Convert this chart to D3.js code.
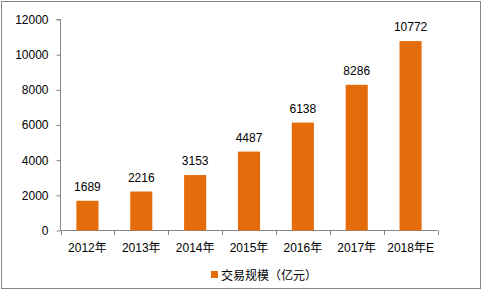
<!DOCTYPE html>
<html><head><meta charset="utf-8">
<script src="https://cdn.jsdelivr.net/npm/d3@7"></script>
<style>body{margin:0;background:#fff}svg{display:block}text{font-family:"Liberation Sans","Noto Sans CJK SC",sans-serif;font-size:12px;fill:#000}</style>
</head><body><svg id="c" width="483" height="291"></svg>
<script>
const categories = ["2012年","2013年","2014年","2015年","2016年","2017年","2018年E"];
const values = [1689,2216,3153,4487,6138,8286,10772];
const yTicks = [0,2000,4000,6000,8000,10000,12000];
const seriesName = "交易规模（亿元）";

const svg = d3.select("#c");
const color = "#E46C0A", axisColor = "#868686";
svg.append("rect").attr("x",1.5).attr("y",1.5).attr("width",479).attr("height",287)
  .attr("fill","#fff").attr("stroke",axisColor);

const x = d3.scaleBand().domain(categories).range([60.5,437.5]).paddingInner(0.59).paddingOuter(0.295);
const y = d3.scaleLinear().domain([0,12000]).range([230.5,19.5]);

const yAxis = svg.append("g").attr("transform","translate(60.5,0)")
  .call(d3.axisLeft(y).tickValues(yTicks).tickSize(4).tickPadding(8).tickFormat(d3.format("d")));
yAxis.select(".domain").attr("stroke",axisColor).attr("d","M-4,19.5H0V230.5");
yAxis.selectAll(".tick line").attr("stroke",axisColor);

const step = (437.5-60.5)/categories.length;
const xg = svg.append("g");
xg.append("line").attr("x1",60.5).attr("x2",437.5).attr("y1",230.5).attr("y2",230.5).attr("stroke",axisColor);
d3.range(categories.length+1).forEach(i=>{
  const px = Math.round(60.5+i*step)+0.5;
  xg.append("line").attr("x1",px).attr("x2",px).attr("y1",230.5).attr("y2",235).attr("stroke",axisColor);
});
xg.selectAll("text.cat").data(categories).join("text").attr("class","cat")
  .attr("x",d=>x(d)+x.bandwidth()/2).attr("y",252).attr("text-anchor","middle").text(d=>d);

svg.selectAll("rect.bar").data(values).join("rect").attr("class","bar")
  .attr("x",(d,i)=>x(categories[i])).attr("width",x.bandwidth())
  .attr("y",d=>y(d)).attr("height",d=>y(0)-y(d)).attr("fill",color);

svg.selectAll("text.val").data(values).join("text").attr("class","val")
  .attr("x",(d,i)=>x(categories[i])+x.bandwidth()/2).attr("y",d=>y(d)-10)
  .attr("text-anchor","middle").text(d=>d);

svg.append("rect").attr("x",211).attr("y",271).attr("width",7).attr("height",7).attr("fill",color);
svg.append("text").attr("x",221).attr("y",280).text(seriesName);
</script></body></html>
